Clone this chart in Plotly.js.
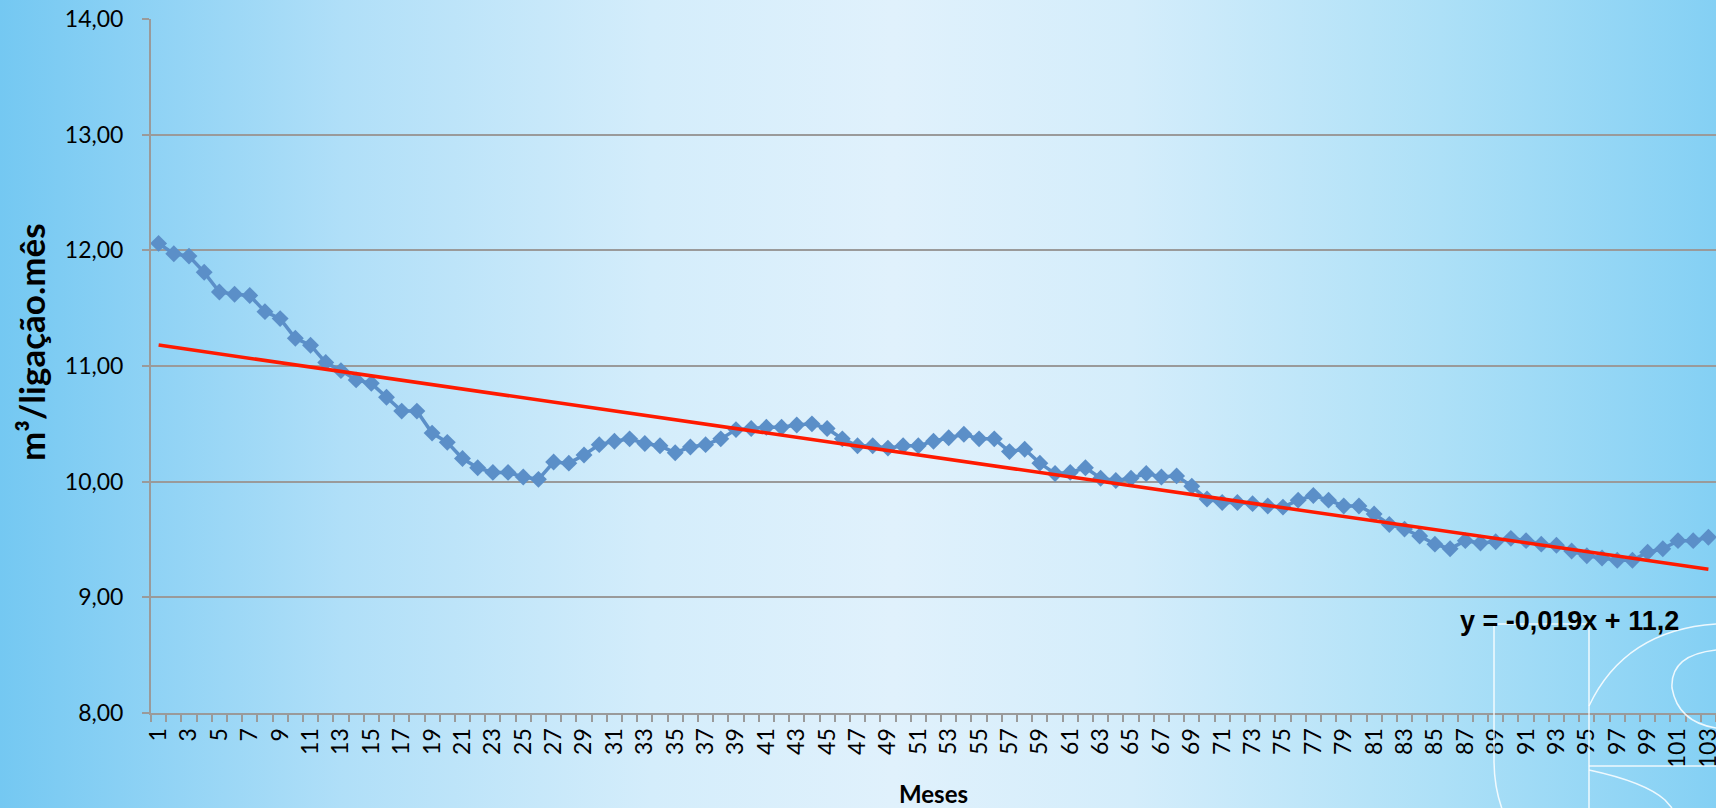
<!DOCTYPE html>
<html>
<head>
<meta charset="utf-8">
<script src="https://cdn.plot.ly/plotly-3.0.1.min.js"></script>
<style>
  html, body { margin: 0; padding: 0; }
  body {
    width: 1716px; height: 808px; overflow: hidden;
    background: linear-gradient(to right, #74c8f2 0%, #b0dff8 20%, #d4edfb 38%, #e0f1fc 52%, #d4edfb 66%, #ade0f7 84%, #84d0f4 100%);
  }
  #chart { width: 1716px; height: 808px; }
</style>
</head>
<body>
<div id="chart"></div>
<script>
// ---- data ----
const months = [];
for (let i = 1; i <= 103; i++) months.push(String(i));

const consumo = [
  12.06, 11.97, 11.95, 11.81, 11.64, 11.62, 11.61, 11.47, 11.41, 11.24,
  11.18, 11.03, 10.96, 10.88, 10.85, 10.73, 10.61, 10.61, 10.42, 10.34,
  10.20, 10.12, 10.08, 10.08, 10.04, 10.02, 10.17, 10.16, 10.23, 10.32,
  10.35, 10.37, 10.33, 10.31, 10.25, 10.30, 10.32, 10.37, 10.45, 10.46,
  10.47, 10.47, 10.49, 10.50, 10.46, 10.37, 10.31, 10.31, 10.29, 10.31,
  10.31, 10.35, 10.38, 10.41, 10.37, 10.37, 10.26, 10.28, 10.16, 10.07,
  10.08, 10.12, 10.03, 10.01, 10.03, 10.07, 10.04, 10.05, 9.96, 9.85,
  9.82, 9.82, 9.81, 9.79, 9.78, 9.84, 9.88, 9.84, 9.79, 9.79,
  9.72, 9.63, 9.59, 9.53, 9.46, 9.42, 9.49, 9.47, 9.48, 9.51,
  9.49, 9.46, 9.45, 9.40, 9.36, 9.34, 9.32, 9.32, 9.39, 9.42,
  9.49, 9.49, 9.52
];

// trend line equation shown on the chart: y = -0,019x + 11,2
const trendSlope = -0.019;
const trendIntercept = 11.2;
const trendLabel = 'y = -0,019x + 11,2';
const yTitle = 'm³/ligação.mês';
const xTitle = 'Meses';

const yTickVals = [8, 9, 10, 11, 12, 13, 14];
const xTickText = months.map((m, i) => (i % 2 === 0 ? m : ''));

const trend = months.map((m, i) => trendSlope * (i + 1) + trendIntercept);

// ---- layout helpers (pixel -> paper) ----
const W = 1716, H = 808;
const M = { l: 151, r: 0, t: 19, b: 95 };
const pw = W - M.l - M.r, ph = H - M.t - M.b;
const px = x => (x - M.l) / pw;
const py = y => (H - M.b - y) / ph;

const white = { color: 'rgba(255,255,255,0.85)', width: 1.5 };

function pathPx(cmds) {
  return cmds.map(c => {
    const L = c[0];
    const nums = [];
    for (let k = 1; k < c.length; k += 2) nums.push(px(c[k]).toFixed(5) + ',' + py(c[k + 1]).toFixed(5));
    return L + nums.join(' ');
  }).join(' ');
}

const shapes = [
  // watermark logo (thin white outlines)
  { type: 'path', xref: 'paper', yref: 'paper', line: white, layer: 'above',
    path: pathPx([['M', 1512, 830], ['Q', 1494, 800, 1494, 760], ['L', 1494, 624], ['L', 1589, 624], ['L', 1589, 830]]) },
  { type: 'path', xref: 'paper', yref: 'paper', line: white, layer: 'above',
    path: pathPx([['M', 1589, 706], ['Q', 1625, 630, 1716, 624]]) },
  { type: 'path', xref: 'paper', yref: 'paper', line: white, layer: 'above',
    path: pathPx([['M', 1716, 650], ['Q', 1670, 655, 1672, 688], ['Q', 1678, 722, 1716, 728]]) },
  { type: 'path', xref: 'paper', yref: 'paper', line: white, layer: 'above',
    path: pathPx([['M', 1589, 766], ['L', 1716, 766]]) },
  { type: 'path', xref: 'paper', yref: 'paper', line: white, layer: 'above',
    path: pathPx([['M', 1589, 770], ['Q', 1645, 782, 1665, 800], ['L', 1672, 808]]) }
];

const traces = [
  {
    x: months, y: consumo, type: 'scatter', mode: 'lines+markers',
    line: { color: '#5b8fc8', width: 3.5 },
    marker: { symbol: 'diamond', size: 13, color: '#5b8fc8' },
    hoverinfo: 'skip', showlegend: false
  },
  {
    x: months, y: trend, type: 'scatter', mode: 'lines',
    line: { color: '#ff1a00', width: 3.5 },
    hoverinfo: 'skip', showlegend: false
  }
];

const layout = {
  width: W, height: H,
  margin: M,
  paper_bgcolor: 'rgba(0,0,0,0)',
  plot_bgcolor: 'rgba(0,0,0,0)',
  separators: ',.',
  showlegend: false,
  font: { family: 'Lato, "Open Sans", sans-serif', color: '#000' },
  xaxis: {
    type: 'category',
    tickmode: 'array', tickvals: months, ticktext: xTickText,
    tickson: 'boundaries',
    ticks: 'outside', ticklen: 7, tickwidth: 2, tickcolor: '#9a9a9a',
    tickangle: -90,
    ticklabelstandoff: 4,
    tickfont: { family: 'Lato, sans-serif', size: 23, color: '#000' },
    showline: true, linecolor: '#9a9a9a', linewidth: 2,
    showgrid: false, zeroline: false,
    range: [-0.5, 102.5],
    title: { text: '<b>' + xTitle + '</b>', font: { family: 'Lato, sans-serif', size: 24, color: '#000' }, standoff: 20 }
  },
  yaxis: {
    range: [8, 14],
    tickmode: 'array', tickvals: yTickVals,
    tickformat: '.2f',
    ticks: 'outside', ticklen: 7, tickwidth: 2, tickcolor: '#9a9a9a',
    tickfont: { family: 'Lato, sans-serif', size: 23, color: '#000' },
    ticklabelstandoff: 14,
    showline: true, linecolor: '#9a9a9a', linewidth: 2,
    showgrid: true, gridcolor: '#9a9a9a', gridwidth: 2,
    zeroline: false
  },
  shapes: shapes,
  annotations: [
    {
      text: '<b>' + yTitle + '</b>',
      xref: 'paper', yref: 'paper',
      x: px(31), y: py(342), xanchor: 'center', yanchor: 'middle',
      textangle: -90, showarrow: false,
      font: { family: 'Lato, sans-serif', size: 35, color: '#000' }
    },
    {
      text: '<b>' + trendLabel + '</b>',
      xref: 'paper', yref: 'paper',
      x: px(1569), y: py(621), xanchor: 'center', yanchor: 'middle',
      showarrow: false,
      font: { family: '"Liberation Sans", Arial, sans-serif', size: 27, color: '#000' }
    }
  ]
};

Plotly.newPlot('chart', traces, layout, { staticPlot: true, displayModeBar: false });
</script>
</body>
</html>
